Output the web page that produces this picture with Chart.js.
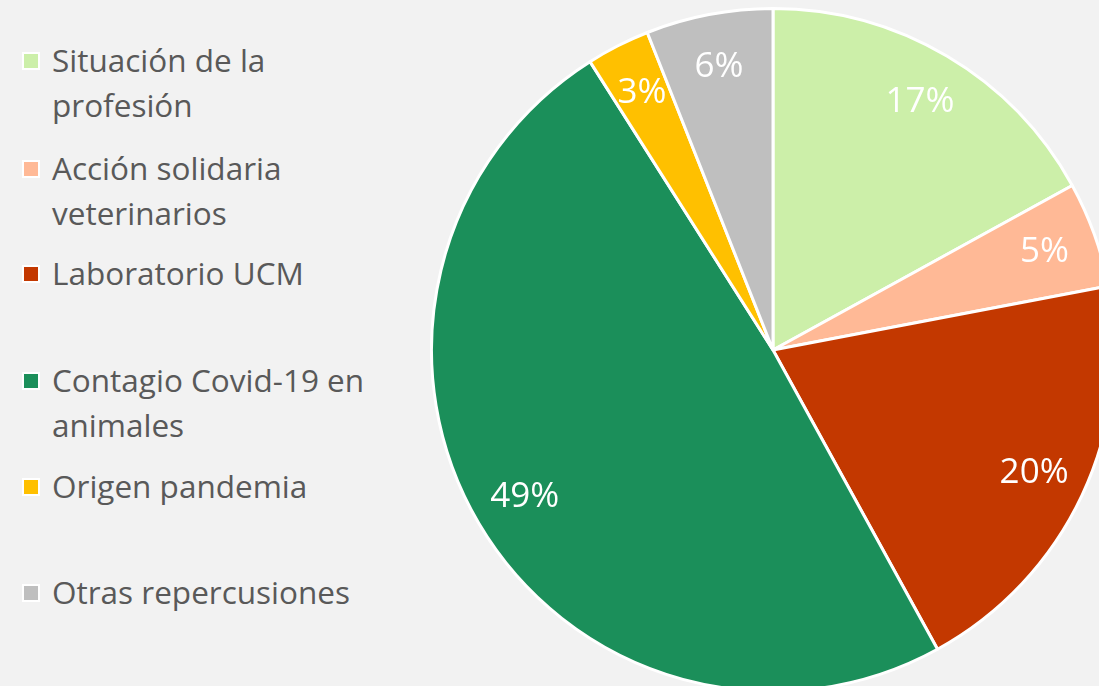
<!DOCTYPE html>
<html>
<head>
<meta charset="utf-8">
<script src="https://cdn.jsdelivr.net/npm/chart.js@4/dist/chart.umd.min.js"></script>
<style>
  html, body { margin:0; padding:0; width:1099px; height:686px; overflow:hidden; background:#f2f2f2; }
  #wrap { position:absolute; left:430px; top:7px; width:686px; height:686px; }
  #legend { position:absolute; left:0; top:0; }
  .item { position:absolute; left:22px; font-family:"Open Sans", sans-serif; font-size:31.5px; color:#595959; line-height:45px; }
  .sw { position:absolute; left:0; top:15px; width:14px; height:14px; border:2.5px solid #fff; }
  .txt { position:absolute; left:30px; top:0; width:335px; white-space:normal; }
</style>
</head>
<body>
<div id="legend"></div>
<div id="wrap"><canvas id="c"></canvas></div>
<script>
const categories = ['Situación de la profesión', 'Acción solidaria veterinarios', 'Laboratorio UCM', 'Contagio Covid-19 en animales', 'Origen pandemia', 'Otras repercusiones'];
const values = [17, 5, 20, 49, 3, 6];
const colors = ['#ccefa9', '#ffb996', '#c33800', '#1b8f5a', '#ffc000', '#bfbfbf'];
const legendTops = [37, 145, 250, 357, 463, 569];

const legend = document.getElementById('legend');
categories.forEach((c, i) => {
  const d = document.createElement('div');
  d.className = 'item';
  d.style.top = legendTops[i] + 'px';
  d.innerHTML = '<div class="sw" style="background:' + colors[i] + '"></div><div class="txt"></div>';
  d.querySelector('.txt').textContent = c;
  legend.appendChild(d);
});

const labelPlugin = {
  id: 'pctLabels',
  afterDatasetsDraw(chart) {
    const ctx = chart.ctx;
    const meta = chart.getDatasetMeta(0);
    const data = chart.data.datasets[0].data;
    const total = data.reduce((a, b) => a + b, 0);
    ctx.save();
    ctx.font = '35px "Open Sans", sans-serif';
    ctx.fillStyle = '#ffffff';
    ctx.textAlign = 'center';
    ctx.textBaseline = 'middle';
    meta.data.forEach((arc, i) => {
      const p = arc.getProps(['x', 'y', 'startAngle', 'endAngle', 'outerRadius'], true);
      const mid = (p.startAngle + p.endAngle) / 2;
      const r = p.outerRadius * 0.845;
      const pct = Math.round(data[i] / total * 100) + '%';
      ctx.fillText(pct, p.x + Math.cos(mid) * r, p.y + Math.sin(mid) * r);
    });
    ctx.restore();
  }
};

new Chart(document.getElementById('c'), {
  type: 'pie',
  data: {
    labels: categories,
    datasets: [{
      data: values,
      backgroundColor: colors,
      borderColor: '#ffffff',
      borderWidth: 3
    }]
  },
  options: {
    responsive: true,
    maintainAspectRatio: false,
    animation: false,
    layout: { padding: 0 },
    plugins: {
      legend: { display: false },
      tooltip: { enabled: false }
    }
  },
  plugins: [labelPlugin]
});
</script>
</body>
</html>
